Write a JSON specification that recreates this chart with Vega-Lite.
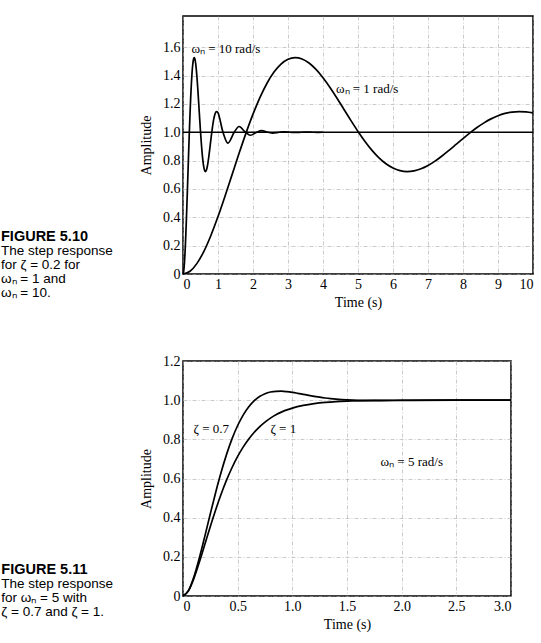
{
  "$schema": "https://vega.github.io/schema/vega-lite/v6.json",
  "padding": {"left": 0, "top": 15, "right": 2, "bottom": 2},
  "background": "white",
  "spacing": 43,
  "config": {
    "view": {"stroke": "black", "strokeWidth": 1.5},
    "font": "Liberation Serif",
    "axis": {
      "labelFont": "Liberation Serif", "titleFont": "Liberation Serif",
      "labelFontSize": 14, "titleFontSize": 14, "titleFontWeight": "normal",
      "labelColor": "black", "titleColor": "black",
      "domain": false, "ticks": false,
      "gridColor": "#a8a8a8", "gridDash": [4, 2, 1, 2], "gridWidth": 0.6,
      "labelPadding": 3
    },
    "axisX": {"titlePadding": 4},
    "axisY": {"titlePadding": 9}
  },
  "datasets": {
    "top": [
      {"s":"w1","t":0,"amp":0},{"s":"w1","t":0.2,"amp":0.0194},{"s":"w1","t":0.4,"amp":0.0749},{"s":"w1","t":0.6,"amp":0.1616},{"s":"w1","t":0.8,"amp":0.2737},{"s":"w1","t":1.0,"amp":0.4050},{"s":"w1","t":1.2,"amp":0.5491},{"s":"w1","t":1.4,"amp":0.6993},{"s":"w1","t":1.6,"amp":0.8495},{"s":"w1","t":1.8,"amp":0.9939},{"s":"w1","t":2.0,"amp":1.1275},{"s":"w1","t":2.2,"amp":1.2459},{"s":"w1","t":2.4,"amp":1.3458},{"s":"w1","t":2.6,"amp":1.4247},{"s":"w1","t":2.8,"amp":1.4813},{"s":"w1","t":3.0,"amp":1.5151},{"s":"w1","t":3.2,"amp":1.5266},{"s":"w1","t":3.4,"amp":1.5170},{"s":"w1","t":3.6,"amp":1.4884},{"s":"w1","t":3.8,"amp":1.4432},{"s":"w1","t":4.0,"amp":1.3845},{"s":"w1","t":4.2,"amp":1.3157},{"s":"w1","t":4.4,"amp":1.2400},{"s":"w1","t":4.6,"amp":1.1609},{"s":"w1","t":4.8,"amp":1.0817},{"s":"w1","t":5.0,"amp":1.0055},{"s":"w1","t":5.2,"amp":0.9350},{"s":"w1","t":5.4,"amp":0.8724},{"s":"w1","t":5.6,"amp":0.8194},{"s":"w1","t":5.8,"amp":0.7775},{"s":"w1","t":6.0,"amp":0.7473},{"s":"w1","t":6.2,"amp":0.7291},{"s":"w1","t":6.4,"amp":0.7227},{"s":"w1","t":6.6,"amp":0.7274},{"s":"w1","t":6.8,"amp":0.7422},{"s":"w1","t":7.0,"amp":0.7657},{"s":"w1","t":7.2,"amp":0.7964},{"s":"w1","t":7.4,"amp":0.8325},{"s":"w1","t":7.6,"amp":0.8723},{"s":"w1","t":7.8,"amp":0.9139},{"s":"w1","t":8.0,"amp":0.9556},{"s":"w1","t":8.2,"amp":0.9958},{"s":"w1","t":8.4,"amp":1.0331},{"s":"w1","t":8.6,"amp":1.0662},{"s":"w1","t":8.8,"amp":1.0943},{"s":"w1","t":9.0,"amp":1.1166},{"s":"w1","t":9.2,"amp":1.1327},{"s":"w1","t":9.4,"amp":1.1425},{"s":"w1","t":9.6,"amp":1.1460},{"s":"w1","t":9.8,"amp":1.1437},{"s":"w1","t":10.0,"amp":1.1361},
      {"s":"w10","t":0,"amp":0},{"s":"w10","t":0.02,"amp":0.0194},{"s":"w10","t":0.04,"amp":0.0749},{"s":"w10","t":0.06,"amp":0.1616},{"s":"w10","t":0.08,"amp":0.2737},{"s":"w10","t":0.10,"amp":0.4050},{"s":"w10","t":0.12,"amp":0.5491},{"s":"w10","t":0.14,"amp":0.6993},{"s":"w10","t":0.16,"amp":0.8495},{"s":"w10","t":0.18,"amp":0.9939},{"s":"w10","t":0.20,"amp":1.1275},{"s":"w10","t":0.22,"amp":1.2459},{"s":"w10","t":0.24,"amp":1.3458},{"s":"w10","t":0.26,"amp":1.4247},{"s":"w10","t":0.28,"amp":1.4813},{"s":"w10","t":0.30,"amp":1.5151},{"s":"w10","t":0.32,"amp":1.5266},{"s":"w10","t":0.34,"amp":1.5170},{"s":"w10","t":0.36,"amp":1.4884},{"s":"w10","t":0.38,"amp":1.4432},{"s":"w10","t":0.40,"amp":1.3845},{"s":"w10","t":0.42,"amp":1.3157},{"s":"w10","t":0.44,"amp":1.2400},{"s":"w10","t":0.46,"amp":1.1609},{"s":"w10","t":0.48,"amp":1.0817},{"s":"w10","t":0.50,"amp":1.0055},{"s":"w10","t":0.52,"amp":0.9350},{"s":"w10","t":0.54,"amp":0.8724},{"s":"w10","t":0.56,"amp":0.8194},{"s":"w10","t":0.58,"amp":0.7775},{"s":"w10","t":0.60,"amp":0.7473},{"s":"w10","t":0.62,"amp":0.7291},{"s":"w10","t":0.64,"amp":0.7227},{"s":"w10","t":0.66,"amp":0.7274},{"s":"w10","t":0.68,"amp":0.7422},{"s":"w10","t":0.70,"amp":0.7657},{"s":"w10","t":0.72,"amp":0.7964},{"s":"w10","t":0.74,"amp":0.8325},{"s":"w10","t":0.76,"amp":0.8723},{"s":"w10","t":0.78,"amp":0.9139},{"s":"w10","t":0.80,"amp":0.9556},{"s":"w10","t":0.82,"amp":0.9958},{"s":"w10","t":0.84,"amp":1.0331},{"s":"w10","t":0.86,"amp":1.0662},{"s":"w10","t":0.88,"amp":1.0943},{"s":"w10","t":0.90,"amp":1.1166},{"s":"w10","t":0.92,"amp":1.1327},{"s":"w10","t":0.94,"amp":1.1425},{"s":"w10","t":0.96,"amp":1.1460},{"s":"w10","t":0.98,"amp":1.1437},{"s":"w10","t":1.00,"amp":1.1361},
      {"s":"w10","t":1.1428,"amp":1.0},{"s":"w10","t":1.2826,"amp":0.9231},{"s":"w10","t":1.4634,"amp":1.0},{"s":"w10","t":1.6032,"amp":1.0405},{"s":"w10","t":1.7841,"amp":1.0},{"s":"w10","t":1.9238,"amp":0.9787},{"s":"w10","t":2.1047,"amp":1.0},{"s":"w10","t":2.2445,"amp":1.0112},{"s":"w10","t":2.4254,"amp":1.0},{"s":"w10","t":2.5651,"amp":0.9941},{"s":"w10","t":2.746,"amp":1.0},{"s":"w10","t":2.8858,"amp":1.0031},{"s":"w10","t":3.067,"amp":1.0},{"s":"w10","t":3.2064,"amp":0.9984},{"s":"w10","t":3.387,"amp":1.0},{"s":"w10","t":3.527,"amp":1.0009},{"s":"w10","t":3.708,"amp":1.0},{"s":"w10","t":3.8477,"amp":0.9996},{"s":"w10","t":4.0,"amp":1.0}
    ],
    "bottom": [
      {"s":"z07","t":0,"amp":0},{"s":"z07","t":0.05,"amp":0.0278},{"s":"z07","t":0.1,"amp":0.0983},{"s":"z07","t":0.15,"amp":0.1954},{"s":"z07","t":0.2,"amp":0.3059},{"s":"z07","t":0.25,"amp":0.4203},{"s":"z07","t":0.3,"amp":0.5313},{"s":"z07","t":0.35,"amp":0.6341},{"s":"z07","t":0.4,"amp":0.7257},{"s":"z07","t":0.45,"amp":0.8047},{"s":"z07","t":0.5,"amp":0.8706},{"s":"z07","t":0.55,"amp":0.9238},{"s":"z07","t":0.6,"amp":0.9653},{"s":"z07","t":0.65,"amp":0.9964},{"s":"z07","t":0.7,"amp":1.0185},{"s":"z07","t":0.75,"amp":1.0330},{"s":"z07","t":0.8,"amp":1.0416},{"s":"z07","t":0.85,"amp":1.0454},{"s":"z07","t":0.9,"amp":1.0458},{"s":"z07","t":0.95,"amp":1.0436},{"s":"z07","t":1.0,"amp":1.0398},{"s":"z07","t":1.05,"amp":1.0350},{"s":"z07","t":1.1,"amp":1.0298},{"s":"z07","t":1.15,"amp":1.0246},{"s":"z07","t":1.2,"amp":1.0196},{"s":"z07","t":1.25,"amp":1.0151},{"s":"z07","t":1.3,"amp":1.0111},{"s":"z07","t":1.35,"amp":1.0077},{"s":"z07","t":1.4,"amp":1.0049},{"s":"z07","t":1.45,"amp":1.0027},{"s":"z07","t":1.5,"amp":1.0010},{"s":"z07","t":1.6,"amp":0.9988},{"s":"z07","t":1.8,"amp":0.9979},{"s":"z07","t":2.0,"amp":0.9987},{"s":"z07","t":2.5,"amp":1.0001},{"s":"z07","t":3.0,"amp":1.0},
      {"s":"z1","t":0,"amp":0},{"s":"z1","t":0.05,"amp":0.0265},{"s":"z1","t":0.1,"amp":0.0902},{"s":"z1","t":0.15,"amp":0.1734},{"s":"z1","t":0.2,"amp":0.2642},{"s":"z1","t":0.25,"amp":0.3554},{"s":"z1","t":0.3,"amp":0.4422},{"s":"z1","t":0.35,"amp":0.5221},{"s":"z1","t":0.4,"amp":0.5940},{"s":"z1","t":0.45,"amp":0.6575},{"s":"z1","t":0.5,"amp":0.7127},{"s":"z1","t":0.55,"amp":0.7603},{"s":"z1","t":0.6,"amp":0.8009},{"s":"z1","t":0.65,"amp":0.8352},{"s":"z1","t":0.7,"amp":0.8641},{"s":"z1","t":0.75,"amp":0.8883},{"s":"z1","t":0.8,"amp":0.9084},{"s":"z1","t":0.85,"amp":0.9251},{"s":"z1","t":0.9,"amp":0.9389},{"s":"z1","t":0.95,"amp":0.9503},{"s":"z1","t":1.0,"amp":0.9596},{"s":"z1","t":1.1,"amp":0.9734},{"s":"z1","t":1.2,"amp":0.9826},{"s":"z1","t":1.3,"amp":0.9887},{"s":"z1","t":1.4,"amp":0.9927},{"s":"z1","t":1.5,"amp":0.9953},{"s":"z1","t":1.75,"amp":0.9985},{"s":"z1","t":2.0,"amp":0.9995},{"s":"z1","t":2.5,"amp":1.0},{"s":"z1","t":3.0,"amp":1.0}
    ],
    "topNotes": [
      {"t":0.24,"amp":1.585,"label":"ωₙ = 10 rad/s"},
      {"t":4.37,"amp":1.307,"label":"ωₙ = 1 rad/s"}
    ],
    "bottomNotes": [
      {"t":0.097,"amp":0.855,"label":"ζ = 0.7"},
      {"t":0.80,"amp":0.855,"label":"ζ = 1"},
      {"t":1.807,"amp":0.684,"label":"ωₙ = 5 rad/s"}
    ],
    "topCapHead": [{"t":-5.2,"amp":0.264,"label":"FIGURE 5.10"}],
    "topCap": [
      {"t":-5.2,"amp":0.165,"label":"The step response"},
      {"t":-5.2,"amp":0.066,"label":"for ζ = 0.2 for"},
      {"t":-5.2,"amp":-0.033,"label":"ωₙ = 1 and"},
      {"t":-5.2,"amp":-0.132,"label":"ωₙ = 10."}
    ],
    "bottomCapHead": [{"t":-1.662,"amp":0.131,"label":"FIGURE 5.11"}],
    "bottomCap": [
      {"t":-1.662,"amp":0.060,"label":"The step response"},
      {"t":-1.662,"amp":-0.012,"label":"for ωₙ = 5 with"},
      {"t":-1.662,"amp":-0.083,"label":"ζ = 0.7 and ζ = 1."}
    ],
    "one": [{"amp":1}]
  },
  "vconcat": [
    {
      "width": 350,
      "height": 258,
      "encoding": {
        "x": {"field":"t","type":"quantitative","scale":{"domain":[0,10],"nice":false},
              "axis":{"values":[0,1,2,3,4,5,6,7,8,9,10],"title":"Time (s)","format":"d"}},
        "y": {"field":"amp","type":"quantitative","scale":{"domain":[0,1.82],"nice":false},
              "axis":{"values":[0,0.2,0.4,0.6,0.8,1.0,1.2,1.4,1.6],"title":"Amplitude",
                      "labelExpr":"datum.value == 0 ? '0' : format(datum.value, '.1f')"}}
      },
      "layer": [
        {"data":{"name":"one"},"mark":{"type":"rule","color":"black","strokeWidth":1.3},
         "encoding":{"x":null,"y":{"field":"amp","type":"quantitative"}}},
        {"data":{"name":"top"},"mark":{"type":"line","color":"black","strokeWidth":1.7,"interpolate":"monotone"},
         "encoding":{"detail":{"field":"s"}}},
        {"data":{"name":"topNotes"},"mark":{"type":"text","align":"left","baseline":"middle","font":"Liberation Serif","fontSize":13,"color":"black"},
         "encoding":{"text":{"field":"label"}}},
        {"data":{"name":"topCapHead"},"mark":{"type":"text","align":"left","baseline":"middle","font":"Liberation Sans","fontSize":14.5,"fontWeight":"bold","color":"black"},
         "encoding":{"text":{"field":"label"}}},
        {"data":{"name":"topCap"},"mark":{"type":"text","align":"left","baseline":"middle","font":"Liberation Sans","fontSize":13.5,"color":"black"},
         "encoding":{"text":{"field":"label"}}}
      ]
    },
    {
      "width": 328,
      "height": 235,
      "encoding": {
        "x": {"field":"t","type":"quantitative","scale":{"domain":[0,3],"nice":false},
              "axis":{"values":[0,0.5,1,1.5,2,2.5,3],"title":"Time (s)",
                      "labelExpr":"datum.value == 0 ? '0' : format(datum.value, '.1f')"}},
        "y": {"field":"amp","type":"quantitative","scale":{"domain":[0,1.2],"nice":false},
              "axis":{"values":[0,0.2,0.4,0.6,0.8,1.0,1.2],"title":"Amplitude",
                      "labelExpr":"datum.value == 0 ? '0' : format(datum.value, '.1f')"}}
      },
      "layer": [
        {"data":{"name":"bottom"},"mark":{"type":"line","color":"black","strokeWidth":1.7,"interpolate":"monotone"},
         "encoding":{"detail":{"field":"s"}}},
        {"data":{"name":"bottomNotes"},"mark":{"type":"text","align":"left","baseline":"middle","font":"Liberation Serif","fontSize":13,"color":"black"},
         "encoding":{"text":{"field":"label"}}},
        {"data":{"name":"bottomCapHead"},"mark":{"type":"text","align":"left","baseline":"middle","font":"Liberation Sans","fontSize":14.5,"fontWeight":"bold","color":"black"},
         "encoding":{"text":{"field":"label"}}},
        {"data":{"name":"bottomCap"},"mark":{"type":"text","align":"left","baseline":"middle","font":"Liberation Sans","fontSize":13.5,"color":"black"},
         "encoding":{"text":{"field":"label"}}}
      ]
    }
  ]
}
